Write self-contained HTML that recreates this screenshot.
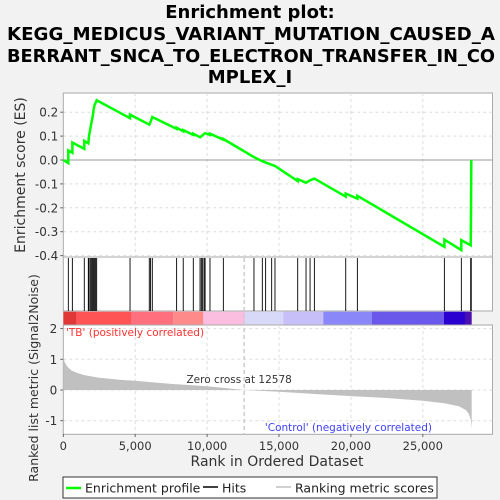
<!DOCTYPE html>
<html><head><meta charset="utf-8"><style>
body{margin:0;background:#f2f2f2;}
svg{display:block;font-family:"DejaVu Sans","Liberation Sans",sans-serif;}
</style></head><body>
<svg id="chart" width="500" height="500" viewBox="0 0 500 500">
<rect width="500" height="500" fill="#f2f2f2"/>
<g font-weight="bold" font-size="18" text-anchor="middle" fill="#000">
<text x="250" y="18">Enrichment plot:</text>
<text x="251" y="40" textLength="488" lengthAdjust="spacingAndGlyphs">KEGG_MEDICUS_VARIANT_MUTATION_CAUSED_A</text>
<text x="251" y="62" textLength="488" lengthAdjust="spacingAndGlyphs">BERRANT_SNCA_TO_ELECTRON_TRANSFER_IN_CO</text>
<text x="250" y="83">MPLEX_I</text>
</g>
<g id="plot"></g>
</svg>
<script>
const hitRanks=[350,630,1460,1740,1790,1880,1970,2040,2110,2180,2250,2320,4640,5980,6070,6190,7880,8340,9040,9510,9600,9690,9790,9860,10200,11130,13260,13840,14070,14490,14720,16300,16880,17160,17460,19640,20450,26500,27680,28330,28370];
const esRanks=[0,350,350,630,630,1460,1460,1740,1790,1880,1970,2040,2110,2180,2250,2320,4640,4640,5980,6070,6190,7880,7880,8340,8340,9040,9040,9510,9860,10200,10200,11130,11130,13260,13840,14490,14720,16300,16300,16880,17160,17460,19640,19640,20450,20450,26500,26500,27680,27680,28330,28350,28370];
const esValues=[0,-0.013,0.04,0.03,0.073,0.047,0.08,0.07,0.1,0.13,0.16,0.18,0.21,0.23,0.24,0.25,0.175,0.19,0.148,0.16,0.18,0.13,0.135,0.12,0.125,0.105,0.11,0.095,0.112,0.105,0.11,0.085,0.088,0.012,-0.005,-0.02,-0.025,-0.088,-0.08,-0.095,-0.085,-0.078,-0.153,-0.14,-0.162,-0.15,-0.363,-0.333,-0.377,-0.335,-0.357,-0.22,0];
const metricRanks=[0,100,300,600,1000,1500,2500,4000,5000,7500,10000,12578,15000,17500,20000,22500,25000,26500,27500,28000,28200,28330,28400];
const metricValues=[1.1,0.9,0.75,0.63,0.55,0.48,0.4,0.33,0.3,0.2,0.12,0,-0.06,-0.13,-0.2,-0.26,-0.35,-0.43,-0.53,-0.65,-0.78,-0.95,-1.25];
const xTicks=[0,5000,10000,15000,20000,25000];
const esTicks=[0.2,0.1,0.0,-0.1,-0.2,-0.3,-0.4];
const metricTicks=[2,1,0,-1];
const zeroCross=12578;

const NS='http://www.w3.org/2000/svg';
const g=document.getElementById('plot');
const L=63.3,R=492.5;
const xS=r=>L+r*71.9/5000;
const esY=v=>160-v*239;
const mY=v=>390-v*30.7;
function el(t,a,p){const e=document.createElementNS(NS,t);for(const k in a)e.setAttribute(k,a[k]);(p||g).appendChild(e);return e;}

let r=el('rect',{x:L,y:93,width:R-L,height:164,fill:'#fff',stroke:'#aaa'});


xTicks.forEach(t=>{if(t>0){el('line',{x1:xS(t),x2:xS(t),y1:93,y2:257,stroke:'#ddd','stroke-dasharray':'3,3'});}});
esTicks.forEach(t=>{
 el('line',{x1:L,x2:R,y1:esY(t),y2:esY(t),stroke:t===0?'#999':'#ddd','stroke-dasharray':t===0?'':'3,3'});
 el('line',{x1:L-3,x2:L,y1:esY(t),y2:esY(t),stroke:'#666'});
 const tx=el('text',{x:L-5,y:esY(t)+4.5,'text-anchor':'end','font-size':'12',fill:'#333'});
 tx.textContent=t.toFixed(1);
 
 
});
let pts=esRanks.map((rk,i)=>xS(rk).toFixed(1)+','+esY(esValues[i]).toFixed(1)).join(' ');
let pl=el('polyline',{points:pts,fill:'none',stroke:'#00ff00','stroke-width':'2.5'});


let yt=el('text',{x:0,y:0,transform:'translate(25,175) rotate(-90)','text-anchor':'middle','font-size':'14',fill:'#333'});
yt.textContent='Enrichment score (ES)';



let hp=el('rect',{x:L,y:257,width:R-L,height:54,fill:'#fff',stroke:'#aaa'});


hitRanks.forEach(h=>{
 const ln=el('line',{x1:xS(h),x2:xS(h),y1:258,y2:311,stroke:'#000','stroke-width':'0.9'});
 
 
});
const segs=[[63.3,76.7,'#e03838'],[76.7,131,'#ff5456'],[131,173.3,'#ff6f7e'],[173.3,203.3,'#ff8a8a'],[203.3,245,'#fbbde0'],[245,283.3,'#d8d8f8'],[283.3,323.3,'#c6bff8'],[323.3,371.7,'#8a88f8'],[371.7,444,'#6a58ea'],[444,465,'#2a00d0'],[465,471.7,'#4a10b0']];
segs.forEach(s=>{const b=el('rect',{x:s[0],y:311.7,width:s[1]-s[0],height:13.3,fill:s[2]});
 
 });

let mp=el('rect',{x:L,y:325,width:R-L,height:109.3,fill:'#fff',stroke:'#aaa'});


xTicks.forEach(t=>{if(t>0)el('line',{x1:xS(t),x2:xS(t),y1:325,y2:434,stroke:'#ddd','stroke-dasharray':'3,3'});});
metricTicks.forEach(t=>{
 el('line',{x1:L,x2:R,y1:mY(t),y2:mY(t),stroke:'#ddd','stroke-dasharray':'3,3'});
 el('line',{x1:L-3,x2:L,y1:mY(t),y2:mY(t),stroke:'#666'});
 const tx=el('text',{x:L-6,y:mY(t)+4.5,'text-anchor':'end','font-size':'12',fill:'#333'});
 tx.textContent=t;
 
 
});
let ap='M'+xS(0)+','+mY(0)+' '+metricRanks.map((rk,i)=>'L'+xS(rk).toFixed(1)+','+mY(metricValues[i]).toFixed(1)).join(' ')+' L'+xS(metricRanks[metricRanks.length-1])+','+mY(0)+'Z';
let ar=el('path',{d:ap,fill:'#c0c0c0'});


let zl=el('line',{x1:xS(zeroCross),x2:xS(zeroCross),y1:258,y2:434,stroke:'#ccc','stroke-width':'1.5','stroke-dasharray':'4,3'});


let zt=el('text',{x:xS(zeroCross)-5,y:383,'text-anchor':'middle','font-size':'10.5',fill:'#333'});
zt.textContent='Zero cross at '+zeroCross;


let tb=el('text',{x:66,y:336,'font-size':'10.5',fill:'#ff3030'});
tb.textContent="'TB' (positively correlated)";


let cl=el('text',{x:432,y:431,'text-anchor':'end','font-size':'10.5',fill:'#4040ff'});
cl.textContent="'Control' (negatively correlated)";


xTicks.forEach(t=>{
 el('line',{x1:xS(t),x2:xS(t),y1:434,y2:437,stroke:'#666'});
 const tx=el('text',{x:xS(t),y:450,'text-anchor':'middle','font-size':'11.5',fill:'#333'});
 tx.textContent=t.toLocaleString('en-US');
 
 
});
let xt=el('text',{x:277,y:466,'text-anchor':'middle','font-size':'14',fill:'#333'});
xt.textContent='Rank in Ordered Dataset';


let mt=el('text',{x:0,y:0,transform:'translate(38,378) rotate(-90)','text-anchor':'middle','font-size':'12.5',fill:'#333'});
mt.textContent='Ranked list metric (Signal2Noise)';



const lg=el('g',{});


el('rect',{x:63,y:477,width:374,height:21,fill:'#fff',stroke:'#333'},lg);
el('line',{x1:66,x2:81,y1:488,y2:488,stroke:'#00ff00','stroke-width':'2.5'},lg);
let t1=el('text',{x:85,y:492.5,'font-size':'12.5',fill:'#222'},lg);t1.textContent='Enrichment profile';


el('line',{x1:203,x2:218,y1:487,y2:487,stroke:'#000','stroke-width':'1.5'},lg);
let t2=el('text',{x:222,y:492.5,'font-size':'12.5',fill:'#222'},lg);t2.textContent='Hits';


el('line',{x1:276,x2:291,y1:487,y2:487,stroke:'#c0c0c0','stroke-width':'1.5'},lg);
let t3=el('text',{x:295,y:492.5,'font-size':'12.5',fill:'#222'},lg);t3.textContent='Ranking metric scores';


</script>
</body></html>
